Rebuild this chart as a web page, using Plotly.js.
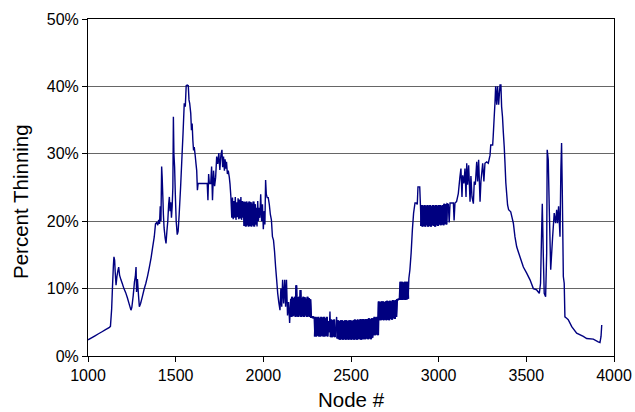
<!DOCTYPE html>
<html>
<head>
<meta charset="utf-8">
<script src="https://cdn.plot.ly/plotly-3.0.1.min.js"></script>
<style>
html,body{margin:0;padding:0;background:#fff}#chart{width:635px;height:412px}
</style>
</head>
<body>
<div id="chart"></div>
<script>
// Region 1: 1000 – 1820 (first hump)
const nodesHumpA = [
  1000,1020,1040,1060,1080,1100,1120,1128,1135,1140,
  1145,1148,1152,1155,1160,1165,1170,1175,1180,1188,
  1195,1205,1215,1225,1235,1245,1250,1258,1265,1270,
  1274,1277,1282,1288,1293,1300,1310,1320,1330,1340,
  1350,1360,1368,1378,1385,1392,1398,1403,1408,1412,
  1416,1420,1423,1427,1430,1434,1440,1445,1450,1455,
  1460,1464,1468,1472,1476,1480,1484,1487,1490,1494,
  1498,1503,1509,1514,1520,1528,1535,1542,1549,1555,
  1560,1566,1572,1576,1580,1586,1590,1594,1598,1602,
  1606,1612,1616,1620,1624,1628,1640,1660,1680,1684,
  1688,1692,1700,1705,1710,1716,1722,1728,1734,1740,
  1746,1752,1758,1764,1768,1773,1778,1782,1786,1790,
  1795,1800,1806,1810,1815,1820
];
const pctHumpA = [
  2.4,2.7,3.0,3.3,3.6,3.9,4.2,4.4,7.0,10.5,
  13.5,14.7,14.2,12.5,10.5,11.8,12.6,13.2,12.0,11.3,
  10.8,10.0,9.4,8.6,7.7,6.8,7.2,9.0,11.0,11.8,
  13.2,9.5,11.4,9.0,7.3,7.8,8.8,9.9,10.8,11.9,
  13.2,14.6,16.0,17.7,19.6,19.8,19.4,20.2,19.6,22.2,
  20.0,28.1,26.5,23.5,21.0,19.0,17.5,16.7,18.5,20.0,
  22.5,23.6,21.5,22.8,20.5,22.2,25.0,35.5,30.0,28.0,
  24.0,20.0,18.0,18.5,21.0,25.0,29.0,33.0,37.5,37.0,
  40.1,40.2,40.1,38.0,37.5,36.0,33.5,34.5,32.0,30.5,
  31.0,29.6,28.5,27.5,24.6,25.6,25.6,25.6,25.6,23.1,
  27.0,25.6,25.6,28.1,23.1,27.5,25.2,26.5,29.6,28.5,
  30.1,27.6,29.8,30.6,28.0,29.6,27.5,29.2,27.8,28.8,
  27.0,27.5,26.5,25.5,23.6,20.5
];

// Region 2: 1820 – 2160 (oscillating plateau and descent)
const nodesDescent = [
  1824,1828,1832,1836,1840,1844,1848,1852,1856,1860,
  1864,1868,1872,1876,1880,1884,1888,1892,1896,1900,
  1904,1908,1912,1916,1920,1924,1928,1932,1936,1940,
  1944,1948,1952,1956,1960,1964,1968,1972,1976,1980,
  1985,1990,1995,2000,2005,2009,2013,2017,2022,2028,
  2034,2040,2046,2052,2058,2064,2070,2076,2082,2088,
  2095,2100,2105,2110,2116,2122,2127,2132,2138,2144,
  2150,2156
];
const pctDescent = [
  23.5,20.3,23.0,20.5,23.6,20.2,22.8,20.6,23.4,20.3,
  23.2,20.4,23.6,20.2,23.0,20.5,22.9,19.3,22.8,19.2,
  22.9,19.4,22.7,19.2,22.9,19.3,22.8,19.2,22.6,19.4,
  22.9,19.2,22.5,19.5,22.0,19.2,23.0,20.0,22.0,20.5,
  24.0,20.0,22.5,18.8,21.5,19.5,26.1,24.0,23.5,23.5,
  22.5,21.0,20.2,17.7,17.2,15.5,13.2,11.3,9.3,8.0,
  6.8,10.0,7.3,11.3,7.8,11.3,7.3,11.3,6.0,8.0,
  4.9,8.5
];

// Region 3: 2160 – 2830 (trough bands)
const nodesTrough = [
  2160,2164,2168,2172,2176,2180,2184,2188,2192,2196,
  2200,2204,2208,2212,2216,2220,2224,2228,2232,2236,
  2240,2244,2248,2252,2256,2260,2264,2268,2272,2276,
  2284,2290,2294,2298,2302,2306,2310,2314,2318,2322,
  2326,2330,2334,2338,2342,2346,2350,2354,2358,2362,
  2366,2370,2376,2380,2384,2388,2392,2396,2400,2404,
  2408,2412,2418,2422,2426,2430,2434,2438,2442,2446,
  2450,2454,2458,2462,2466,2470,2474,2478,2482,2486,
  2490,2494,2498,2502,2506,2510,2514,2518,2522,2526,
  2530,2534,2538,2542,2546,2550,2554,2558,2562,2566,
  2570,2574,2578,2582,2586,2590,2594,2598,2602,2606,
  2610,2614,2618,2622,2626,2630,2634,2638,2642,2646,
  2650,2654,2658,2662,2666,2670,2674,2678,2682,2686,
  2690,2694,2698,2702,2706,2710,2714,2718,2722,2726,
  2730,2734,2738,2742,2746,2750,2754,2758,2762,2770,
  2778,2782,2786,2790,2794,2798,2802,2806,2810,2814,
  2818,2822,2826
];
const pctTrough = [
  5.8,8.8,5.9,8.6,6.0,8.8,5.8,10.5,5.9,8.7,
  5.8,8.8,6.0,9.8,5.8,8.6,5.9,8.8,5.8,8.7,
  6.0,8.5,5.8,8.8,5.9,8.6,5.8,8.4,5.8,5.8,
  5.7,5.8,2.9,5.8,2.9,5.7,3.0,5.8,2.9,5.6,
  2.9,5.8,3.0,5.7,2.9,5.8,2.9,5.6,3.0,5.8,
  2.9,5.2,3.5,6.6,2.8,5.4,2.8,5.3,2.9,5.4,
  2.8,3.5,5.8,2.6,5.3,2.5,5.2,2.4,5.3,2.5,
  5.3,2.4,5.2,2.5,5.3,2.4,5.3,2.5,5.2,2.4,
  5.3,2.5,5.3,2.4,5.2,2.5,5.3,2.4,5.4,2.5,
  5.3,2.4,5.4,2.5,5.3,2.5,5.5,2.4,5.4,2.5,
  5.5,2.5,5.4,2.5,5.5,2.6,5.5,2.5,5.6,2.6,
  5.5,2.5,5.6,2.7,5.6,3.1,5.8,3.1,5.7,3.2,
  5.8,3.1,8.1,5.3,8.0,5.3,8.1,5.4,8.1,5.3,
  8.0,5.4,8.1,5.3,8.2,5.4,8.1,5.3,8.2,5.5,
  8.1,5.4,8.3,5.6,8.2,5.5,8.3,5.8,8.3,8.4,
  8.5,11.0,8.3,11.0,8.3,10.9,8.4,11.0,8.3,11.0,
  8.4,11.0,8.5
];

// Region 4: 2830 – 3930 (second hump and tail)
const nodesHumpB = [
  2830,2836,2843,2850,2857,2865,2872,2878,2882,2892,
  2896,2900,2904,2908,2912,2916,2920,2924,2928,2932,
  2936,2940,2944,2948,2952,2956,2960,2964,2968,2972,
  2976,2980,2984,2988,2992,2996,3000,3004,3008,3012,
  3016,3020,3024,3028,3032,3036,3040,3044,3048,3055,
  3060,3065,3075,3084,3088,3093,3102,3112,3121,3127,
  3133,3137,3144,3150,3156,3160,3165,3171,3179,3184,
  3190,3198,3203,3209,3217,3222,3228,3236,3241,3251,
  3258,3264,3274,3283,3293,3297,3308,3311,3317,3321,
  3325,3331,3336,3342,3350,3355,3359,3364,3369,3374,
  3378,3383,3393,3399,3411,3418,3426,3435,3445,3455,
  3464,3483,3502,3521,3540,3559,3574,3581,3587,3591,
  3597,3602,3610,3616,3619,3625,3631,3639,3650,3659,
  3667,3673,3678,3684,3692,3697,3701,3705,3711,3716,
  3720,3730,3739,3759,3787,3825,3844,3882,3910,3920,
  3926,3930
];
const pctHumpB = [
  11.5,12.8,15.3,18.7,21.2,22.7,22.7,22.5,25.1,25.1,
  22.4,19.3,22.4,19.2,22.3,19.3,22.4,19.2,22.2,19.4,
  22.4,19.2,22.3,19.3,22.4,19.2,22.2,19.4,22.4,19.3,
  22.3,19.2,22.4,19.4,22.3,19.3,22.4,19.5,22.4,19.4,
  22.3,19.5,22.4,19.4,22.6,19.6,22.5,19.5,22.6,22.5,
  19.8,22.7,22.7,22.7,20.1,22.7,22.9,24.1,26.5,27.8,
  23.6,26.8,25.6,27.8,23.6,28.6,25.4,28.3,22.9,26.7,
  23.6,22.6,25.9,25.4,28.8,25.9,29.1,22.9,25.9,28.6,
  25.9,28.6,28.8,28.6,29.8,31.3,31.3,32.6,35.6,37.5,
  40.0,37.3,40.0,37.3,40.2,40.2,37.0,35.5,33.1,31.0,
  28.8,25.7,22.4,21.7,21.4,20.6,19.7,17.7,16.2,15.4,
  14.7,13.2,12.3,11.3,10.0,9.8,9.3,10.8,18.2,22.6,
  14.7,9.3,8.8,15.2,30.6,29.1,21.7,12.8,17.7,21.2,
  19.7,21.7,19.7,22.2,17.7,27.6,31.6,24.6,11.8,10.8,
  5.8,5.6,5.4,4.35,3.4,2.9,2.6,2.5,2.1,2.0,
  2.9,4.6
];

// node windows where the curve oscillates densely (drawn again, thicker, so they read as solid)
const denseWindows = [[1886, 1958], [2160, 2290], [2294, 2374], [2384, 2410], [2422, 2826], [2900, 3050]];

const xTicks = [1000,1500,2000,2500,3000,3500,4000];
const yTicks = [0,10,20,30,40,50];

const pairs = [[nodesHumpA,pctHumpA],[nodesDescent,pctDescent],[nodesTrough,pctTrough],[nodesHumpB,pctHumpB]];
pairs.forEach(function(p,i){ if(p[0].length!==p[1].length) throw new Error('length mismatch in region '+(i+1)+': '+p[0].length+' vs '+p[1].length); });
const nodes = [].concat(nodesHumpA,nodesDescent,nodesTrough,nodesHumpB);
const pct = [].concat(pctHumpA,pctDescent,pctTrough,pctHumpB);

const denseX = [], denseY = [];
denseWindows.forEach(function(w){
  for (let i = 0; i < nodes.length; i++) {
    if (nodes[i] >= w[0] && nodes[i] <= w[1]) { denseX.push(nodes[i]); denseY.push(pct[i]); }
  }
  denseX.push(null); denseY.push(null);
});

const font = 'Liberation Sans, Arial, sans-serif';
Plotly.newPlot('chart', [{
  x: nodes, y: pct, type: 'scatter', mode: 'lines',
  line: {color: '#000080', width: 1.4, simplify: false}, hoverinfo: 'skip'
}, {
  x: denseX, y: denseY, type: 'scatter', mode: 'lines', connectgaps: false,
  line: {color: '#000080', width: 2.2, simplify: false}, hoverinfo: 'skip'
}], {
  width: 635, height: 412,
  margin: {l: 88, r: 21, t: 19, b: 56, pad: 0},
  paper_bgcolor: '#ffffff', plot_bgcolor: '#ffffff',
  showlegend: false,
  font: {family: font, color: '#000000', size: 16},
  xaxis: {
    range: [1000, 4000], tickvals: xTicks, ticktext: xTicks.map(String),
    showgrid: false, zeroline: false,
    showline: true, linecolor: '#000000', linewidth: 1, mirror: true,
    ticks: 'outside', ticklen: 5, tickcolor: '#000000', tickwidth: 1,
    tickfont: {family: font, size: 16, color: '#000000'},
    title: {text: 'Node #', font: {family: font, size: 20.5, color: '#000000'}, standoff: 9}
  },
  yaxis: {
    range: [0, 50], tickvals: yTicks, ticktext: yTicks.map(function(v){return v+'%';}),
    showgrid: true, gridcolor: '#666666', gridwidth: 1, zeroline: false,
    showline: true, linecolor: '#000000', linewidth: 1, mirror: true,
    ticks: 'outside', ticklen: 5, tickcolor: '#000000', tickwidth: 1,
    tickfont: {family: font, size: 16, color: '#000000'}
  },
  annotations: [{
    text: 'Percent Thinning', textangle: -90, showarrow: false,
    xref: 'paper', yref: 'paper', x: -0.1274, y: 0.46,
    xanchor: 'center', yanchor: 'middle',
    font: {family: font, size: 20.5, color: '#000000'}
  }]
}, {staticPlot: true, displayModeBar: false});
</script>
</body>
</html>
